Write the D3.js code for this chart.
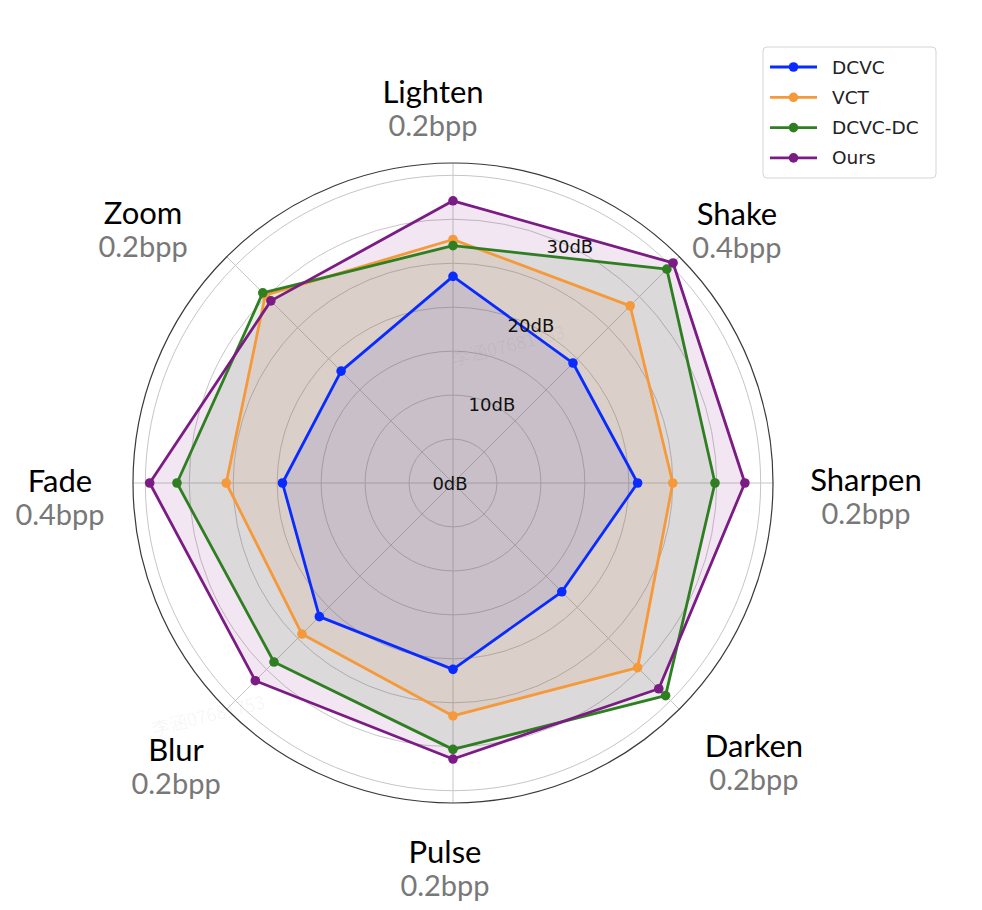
<!DOCTYPE html>
<html>
<head>
<meta charset="utf-8">
<script src="https://cdn.jsdelivr.net/npm/d3@7"></script>
<style>
  body { margin: 0; background: #fff; }
  svg { display: block; }
</style>
</head>
<body>
<div class="radarChart"></div>
<script>
var categories = ['Lighten', 'Shake', 'Sharpen', 'Darken', 'Pulse', 'Blur', 'Fade', 'Zoom'];
var bitrates = ['0.2bpp', '0.4bpp', '0.2bpp', '0.2bpp', '0.2bpp', '0.2bpp', '0.4bpp', '0.2bpp'];
var seriesNames = ['DCVC', 'VCT', 'DCVC-DC', 'Ours'];
var dcvc   = [23.5, 19.3, 21.0, 17.5, 21.2, 21.5, 19.4, 18.0];
var vct    = [27.7, 28.5, 25.0, 29.7, 26.5, 24.3, 25.8, 30.2];
var dcvcDc = [27.0, 34.4, 29.8, 34.2, 30.3, 28.8, 31.4, 30.6];
var ours   = [32.1, 35.4, 33.2, 33.1, 31.4, 31.8, 34.5, 29.3];
var gridValues = [5, 10, 15, 20, 25, 30, 35];
var tickValues = [0, 10, 20, 30];
var tickLabels = ['0dB', '10dB', '20dB', '30dB'];
var colors = ['#0a2bff', '#f5993a', '#2f7f22', '#7b1c84'];

var width = 982, height = 910;
var cx = 453, cy = 483;
var rMax = 36.4;

// small hand nudges for the category labels (they were placed by hand in the original)
var labelNudge = [[-25, -8], [-6, 3], [5, 0], [11, -3], [-13, -8], [3, 1], [5, 1], [-30, 2]];

var series = [dcvc, vct, dcvcDc, ours];

var svg = d3.select('.radarChart')
			.append('svg')
			.attr('width', width)
			.attr('height', height);

var rscale = d3.scaleLinear()
			   .domain([0, rMax])
			   .range([0, 320]);

var ascale = d3.scalePoint()
			   .domain(categories)
			   .range([0, 2 * Math.PI * 7 / 8]);

var g = svg.append('g')
		   .attr('transform', 'translate(' + cx + ',' + cy + ')');

// grid circles
g.selectAll('.grid')
 .data(gridValues)
 .enter().append('circle')
 .attr('r', function(d) { return rscale(d); })
 .attr('fill', 'none')
 .attr('stroke', '#c6c6c6')
 .attr('stroke-width', 1);

// spokes
g.selectAll('.spoke')
 .data(categories)
 .enter().append('line')
 .attr('x1', 0).attr('y1', 0)
 .attr('x2', function(d) { return rscale(rMax) * Math.sin(ascale(d)); })
 .attr('y2', function(d) { return -rscale(rMax) * Math.cos(ascale(d)); })
 .attr('stroke', '#c6c6c6')
 .attr('stroke-width', 1);

// outer ring
g.append('circle')
 .attr('r', rscale(rMax))
 .attr('fill', 'none')
 .attr('stroke', '#3a3a3a')
 .attr('stroke-width', 1.2);

var radial = d3.lineRadial()
			   .angle(function(d, i) { return ascale(categories[i]); })
			   .radius(function(d) { return rscale(d); })
			   .curve(d3.curveLinearClosed);

// fills first, lines on top (like matplotlib zorder)
series.forEach(function(values, s) {
	g.append('path')
	 .attr('d', radial(values))
	 .attr('fill', colors[s])
	 .attr('fill-opacity', 0.11)
	 .attr('stroke', 'none');
});

series.forEach(function(values, s) {
	g.append('path')
	 .attr('d', radial(values))
	 .attr('fill', 'none')
	 .attr('stroke', colors[s])
	 .attr('stroke-width', 2.8)
	 .attr('stroke-linejoin', 'round');

	g.selectAll('.dot' + s)
	 .data(values)
	 .enter().append('circle')
	 .attr('cx', function(d, i) { return rscale(d) * Math.sin(ascale(categories[i])); })
	 .attr('cy', function(d, i) { return -rscale(d) * Math.cos(ascale(categories[i])); })
	 .attr('r', 4.8)
	 .attr('fill', colors[s]);
});

// radial tick labels
var tickAngle = 26.3 * Math.PI / 180;
g.selectAll('.rtick')
 .data(tickValues)
 .enter().append('text')
 .attr('x', function(d) { return rscale(d) * Math.sin(tickAngle) - (d === 0 ? 3 : 0); })
 .attr('y', function(d) { return -rscale(d) * Math.cos(tickAngle); })
 .attr('text-anchor', 'middle')
 .attr('dominant-baseline', 'central')
 .style('font-family', 'DejaVu Sans, sans-serif')
 .style('font-size', '18px')
 .attr('fill', '#111')
 .text(function(d, i) { return tickLabels[i]; });

// category labels, two lines each
var labelRx = 403, labelRy = 380;
categories.forEach(function(c, i) {
	var a = ascale(c);
	var lab = g.append('g');
	lab.append('text')
	   .attr('text-anchor', 'middle')
	   .attr('y', 0)
	   .style('font-family', 'Lato, Carlito, sans-serif')
	   .style('font-size', '31px')
	   .attr('fill', '#000')
	   .text(c);
	lab.append('text')
	   .attr('text-anchor', 'middle')
	   .attr('y', 33)
	   .style('font-family', 'Lato, Carlito, sans-serif')
	   .style('font-size', '29px')
	   .attr('fill', '#787878')
	   .text(bitrates[i]);
	var bb = lab.node().getBBox();
	var x = labelRx * Math.sin(a) + 5 + labelNudge[i][0] - (bb.x + bb.width / 2);
	var y = -labelRy * Math.cos(a) + 12 + labelNudge[i][1] - (bb.y + bb.height / 2);
	lab.attr('transform', 'translate(' + x + ',' + y + ')');
});

// watermarks
var marks = [[510, 352], [210, 722]];
svg.selectAll('.wm')
   .data(marks)
   .enter().append('text')
   .attr('transform', function(d) { return 'translate(' + d[0] + ',' + d[1] + ') rotate(-14)'; })
   .attr('text-anchor', 'middle')
   .style('font-family', 'Noto Sans CJK SC, sans-serif')
   .style('font-size', '18px')
   .attr('fill', '#000')
   .attr('fill-opacity', 0.05)
   .text('李涵07681753');

// legend
var legend = svg.append('g')
				.attr('transform', 'translate(763,47)');

legend.append('rect')
	  .attr('width', 173)
	  .attr('height', 131)
	  .attr('rx', 4)
	  .attr('fill', '#fff')
	  .attr('fill-opacity', 0.8)
	  .attr('stroke', '#d5d5d5')
	  .attr('stroke-width', 1);

var items = legend.selectAll('.item')
				  .data(seriesNames)
				  .enter().append('g')
				  .attr('transform', function(d, i) { return 'translate(0,' + (20 + i * 30.3) + ')'; });

items.append('line')
	 .attr('x1', 7).attr('x2', 54)
	 .attr('stroke', function(d, i) { return colors[i]; })
	 .attr('stroke-width', 2.8);

items.append('circle')
	 .attr('cx', 30.5)
	 .attr('r', 4.8)
	 .attr('fill', function(d, i) { return colors[i]; });

items.append('text')
	 .attr('x', 69)
	 .attr('dominant-baseline', 'central')
	 .style('font-family', 'DejaVu Sans, sans-serif')
	 .style('font-size', '18.5px')
	 .attr('fill', '#222')
	 .text(function(d) { return d; });
</script>
</body>
</html>
